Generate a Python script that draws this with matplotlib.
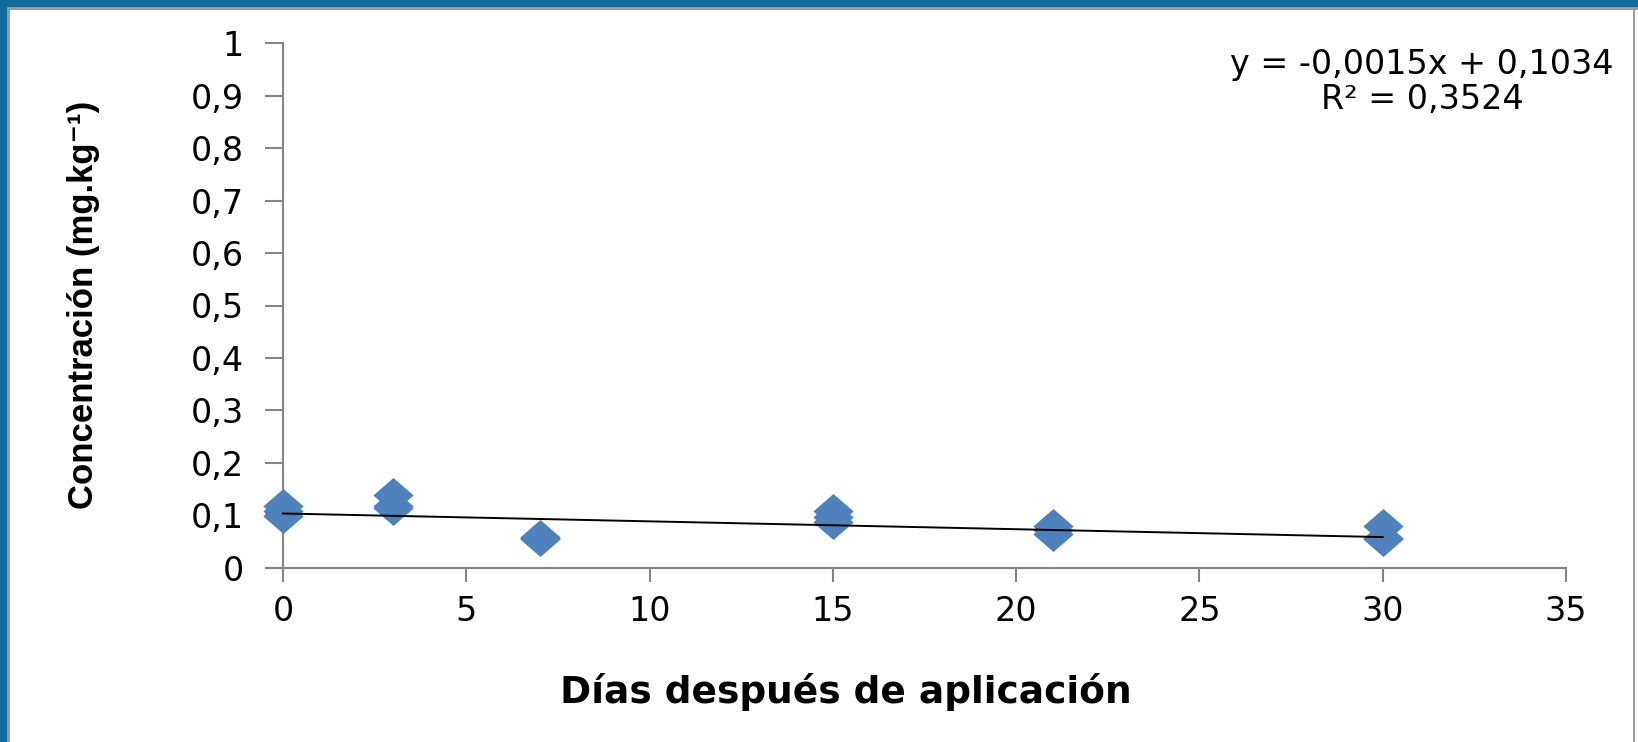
import numpy as np
import matplotlib
matplotlib.use("Agg")
import matplotlib.pyplot as plt
from matplotlib.path import Path
from matplotlib.patches import Rectangle
from matplotlib.ticker import FuncFormatter

plt.rcParams['font.family'] = ['DejaVu Sans']

# datos (3 repeticiones por dia)
dias = [0, 0, 0, 3, 3, 3, 7, 7, 7, 15, 15, 15, 21, 21, 21, 30, 30, 30]
conc = [0.118, 0.108, 0.099, 0.138, 0.118, 0.114, 0.059, 0.057, 0.055,
        0.108, 0.097, 0.087, 0.079, 0.072, 0.065, 0.079, 0.057, 0.055]

# linea de tendencia (tal como aparece en el grafico)
pendiente = -0.0015
intercepto = 0.1034
r2 = 0.3524

x_ticks = [0, 5, 10, 15, 20, 25, 30, 35]
y_ticks = [0, 0.1, 0.2, 0.3, 0.4, 0.5, 0.6, 0.7, 0.8, 0.9, 1.0]

AZUL = '#4F81BD'
GRIS = '#868686'

fig = plt.figure(figsize=(16.38, 7.42), dpi=100)
ax = fig.add_axes([283/1638, 1 - 567.7/742, (1566 - 283)/1638, (567.7 - 43.3)/742])

# marcador rombo un poco mas ancho que alto
rombo = Path([(-1, 0), (0, 0.87), (1, 0), (0, -0.87), (-1, 0)],
             [Path.MOVETO, Path.LINETO, Path.LINETO, Path.LINETO, Path.CLOSEPOLY])
ax.plot(dias, conc, linestyle='none', marker=rombo, markersize=29,
        color=AZUL, markeredgewidth=0, zorder=4, clip_on=False)

xt = np.array([min(dias), max(dias)])
ax.plot(xt, pendiente * xt + intercepto, color='black', lw=1.4, zorder=5, clip_on=False)

ax.set_xlim(0, 35)
ax.set_ylim(0, 1)
ax.set_xticks(x_ticks)
ax.set_yticks(y_ticks)
ax.yaxis.set_major_formatter(FuncFormatter(lambda v, p: ('%g' % round(v, 1)).replace('.', ',')))

for s in ['top', 'right']:
  ax.spines[s].set_visible(False)
for s in ['left', 'bottom']:
  ax.spines[s].set_color(GRIS)
  ax.spines[s].set_linewidth(1.5)
  ax.spines[s].set_zorder(1)
ax.tick_params(axis='y', length=13, width=1.5, color=GRIS, pad=15, labelsize=24)
ax.tick_params(axis='x', length=10, width=1.5, color=GRIS, pad=10, labelsize=24)

ecuacion = 'y = -0,0015x + 0,1034\nR² = 0,3524'
fig.text(1422/1638, 1 - 82/742, ecuacion, ha='center', va='center',
         fontsize=24, linespacing=1.05)

fig.text(84/1638, 1 - 305/742, 'Concentración (mg.kg⁻¹)', rotation=90,
         ha='center', va='center', fontsize=25, fontweight='bold',
         family=['Liberation Sans', 'DejaVu Sans'])
fig.text(846/1638, 1 - 692/742, 'Días después de aplicación', ha='center', va='center',
         fontsize=27, fontweight='bold')

# marco azul y gris
fig.patches.append(Rectangle((0, 1 - 7/742), 1, 7/742, transform=fig.transFigure,
                             facecolor='#0F6A9E', edgecolor='none'))
fig.patches.append(Rectangle((0, 0), 7/1638, 1, transform=fig.transFigure,
                             facecolor='#0F6A9E', edgecolor='none'))
fig.patches.append(Rectangle((7/1638, 0), 3/1638, 1 - 7/742, transform=fig.transFigure,
                             facecolor='#9a9a9a', edgecolor='none'))
fig.patches.append(Rectangle((7/1638, 1 - 10/742), 1, 3/742, transform=fig.transFigure,
                             facecolor='#9a9a9a', edgecolor='none'))
fig.patches.append(Rectangle((1633/1638, 0), 2/1638, 1 - 10/742, transform=fig.transFigure,
                             facecolor='#9a9a9a', edgecolor='none'))

fig.savefig('out.png', dpi=100)
